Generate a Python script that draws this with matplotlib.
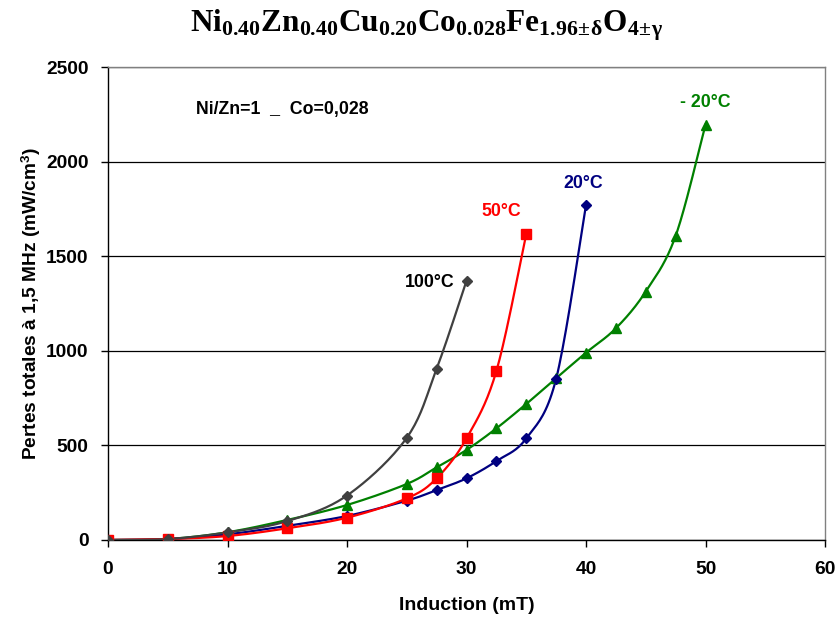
import numpy as np
import matplotlib
matplotlib.use("Agg")
import matplotlib.pyplot as plt

# ---- data ----
x_100 = [0, 5, 10, 15, 20, 25, 27.5, 30]
y_100 = [0, 5, 40, 100, 235, 540, 905, 1370]

x_50 = [0, 5, 10, 15, 20, 25, 27.5, 30, 32.5, 35]
y_50 = [0, 5, 21, 62, 118, 220, 326, 537, 893, 1617]

x_20 = [0, 5, 10, 15, 20, 25, 27.5, 30, 32.5, 35, 37.5, 40]
y_20 = [0, 5, 30, 75, 127, 208, 264, 326, 417, 537, 852, 1771]

x_m20 = [0, 5, 10, 15, 20, 25, 27.5, 30, 32.5, 35, 37.5, 40, 42.5, 45, 47.5, 50]
y_m20 = [0, 5, 41, 106, 185, 296, 384, 476, 590, 719, 855, 990, 1119, 1313, 1607, 2195]

labels = ["100°C", "50°C", "20°C", "- 20°C"]
colors = ["#404040", "#FF0000", "#000080", "#008000"]
label_colors = ["#000000", "#FF0000", "#000080", "#008000"]
markers = ["D", "s", "D", "^"]

plt.rcParams['font.family'] = ['Liberation Sans', 'DejaVu Sans']
plt.rcParams['mathtext.fontset'] = 'custom'
plt.rcParams['mathtext.rm'] = 'Liberation Serif'
plt.rcParams['mathtext.bf'] = 'Liberation Serif:bold'
plt.rcParams['mathtext.it'] = 'Liberation Serif:bold'


def smooth(xs, ys, n=20):
    # Catmull-Rom smoothing through the data points (like Excel smoothed lines)
    xs = np.asarray(xs, float); ys = np.asarray(ys, float)
    P = np.column_stack([xs, ys])
    P = np.vstack([P[0], P, P[-1]])
    out = []
    t = np.linspace(0, 1, n, endpoint=False)
    for i in range(1, len(P) - 2):
        p0, p1, p2, p3 = P[i - 1], P[i], P[i + 1], P[i + 2]
        m1 = (p2 - p0) / 6.0
        m2 = (p3 - p1) / 6.0
        b0 = p1; b1 = p1 + m1; b2 = p2 - m2; b3 = p2
        tt = t[:, None]
        seg = ((1 - tt) ** 3) * b0 + 3 * ((1 - tt) ** 2) * tt * b1 + 3 * (1 - tt) * tt ** 2 * b2 + tt ** 3 * b3
        out.append(seg)
    out.append(P[-2][None, :])
    out = np.vstack(out)
    return out[:, 0], out[:, 1]


fig = plt.figure(figsize=(8.39, 6.19), dpi=100)
ax = fig.add_axes([108 / 839, 1 - 540 / 619, (825 - 108) / 839, (540 - 67) / 619])

series = [(x_m20, y_m20), (x_20, y_20), (x_50, y_50), (x_100, y_100)]
order = [3, 2, 1, 0]
for (xs, ys), k in zip(series, order):
    sx, sy = smooth(xs, ys)
    ax.plot(sx, sy, color=colors[k], lw=1.6, zorder=3)
    ms = 6.5 if markers[k] == "s" else (6.5 if markers[k] == "^" else 5.5)
    ax.plot(xs, ys, linestyle='none', marker=markers[k], color=colors[k],
            markersize=ms, zorder=4)

ax.set_xlim(0, 60)
ax.set_ylim(0, 2500)
ax.set_xticks(np.arange(0, 61, 10))
ax.set_yticks(np.arange(0, 2501, 500))
ax.yaxis.grid(True, color='#000000', lw=0.9)
ax.set_axisbelow(True)
for s in ['top', 'right']:
    ax.spines[s].set_color('#808080')
    ax.spines[s].set_linewidth(1.0)
for s in ['left', 'bottom']:
    ax.spines[s].set_color('#000000')
    ax.spines[s].set_linewidth(1.0)
ax.tick_params(direction='out', length=5, width=1, labelsize=13.8)
ax.tick_params(axis='y', pad=9)
ax.tick_params(axis='x', pad=10)
for lab in ax.get_xticklabels() + ax.get_yticklabels():
    lab.set_fontweight('bold')

ax.set_xlabel("Induction (mT)", fontsize=14, fontweight='bold', labelpad=14)
ax.set_ylabel("Pertes totales à 1,5 MHz (mW/cm$^{\\mathregular{3}}$)", fontsize=13.8,
              fontweight='bold', labelpad=2)

fig.text(0.508, 1 - 25 / 619,
         r"$\mathbf{Ni_{0.40}Zn_{0.40}Cu_{0.20}Co_{0.028}Fe_{1.96\!\pm\!\delta}O_{4\!\pm\!\gamma}}$",
         ha='center', va='center', fontsize=22.5)

ax.text(7.35, 2276, "Ni/Zn=1  _  Co=0,028", fontsize=12.8, fontweight='bold',
        ha='left', va='center')

label_pos = [(26.9, 1360), (32.9, 1735), (39.8, 1885), (50.0, 2310)]
for lab, (lx, ly), c in zip(labels, label_pos, label_colors):
    ax.text(lx, ly, lab, fontsize=12.8, fontweight='bold', color=c,
            ha='center', va='center')

fig.savefig("out.png", dpi=100)
